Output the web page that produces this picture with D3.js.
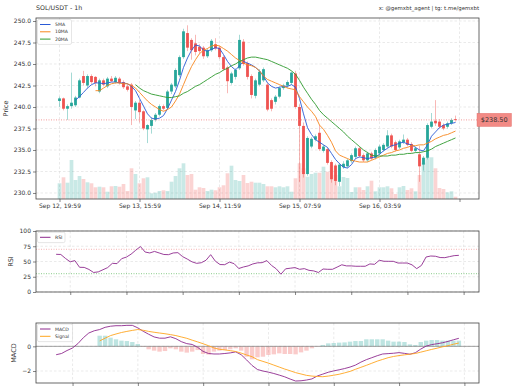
<!DOCTYPE html>
<html>
<head>
<meta charset="utf-8">
<script src="https://cdn.jsdelivr.net/npm/d3@7"></script>
<style>
  body { margin: 0; background: #fff; }
  text { font-family: "DejaVu Sans", sans-serif; fill: #333; }
</style>
</head>
<body>
<div id="chart"></div>
<script>
// SOL/USDT 1h candles
const startTime = "2024-09-12T19:59:00Z";

const opens = [240.7,241.0,239.8,240.1,240.2,241.1,243.6,242.5,243.6,243.5,
  241.8,243.1,242.4,243.3,242.9,243.3,242.9,242.4,242.6,239.6,
  240.5,239.5,237.4,237.8,238.5,239.1,240.1,239.9,241.8,242.4,
  243.7,245.8,248.6,247.8,247.4,247.0,246.9,245.9,246.6,247.3,
  246.9,245.8,244.6,242.8,243.5,244.5,247.6,245.1,243.6,241.3,
  242.6,243.1,242.6,240.8,240.6,241.2,242.2,242.5,242.8,243.9,
  240.0,237.8,232.2,235.4,236.2,237.0,234.9,235.1,233.6,233.2,
  231.3,233.0,233.1,233.7,234.2,235.2,234.4,233.8,234.6,234.1,
  234.6,235.0,235.4,236.7,235.9,235.3,235.9,236.2,235.7,234.9,
  234.5,233.3,234.1,237.7,238.4,238.3,237.9,237.7,238.1,238.6];
const highs = [241.2,241.1,240.3,244.0,241.3,243.3,244.2,243.8,243.8,243.6,
  243.3,243.3,243.5,243.6,243.6,243.5,243.1,242.7,242.8,240.7,
  240.8,239.6,238.0,238.8,239.3,240.3,240.3,242.0,242.8,244.5,
  246.0,249.1,249.5,248.0,248.4,247.3,247.1,246.8,247.9,248.0,
  247.1,246.0,244.8,244.1,244.5,248.4,247.9,245.3,243.8,243.3,
  244.4,244.6,242.8,241.0,241.4,242.4,242.7,243.1,244.1,244.2,
  240.3,238.2,236.6,236.5,236.8,237.9,235.6,235.3,233.8,233.4,
  233.5,233.7,234.0,234.6,235.4,235.4,234.6,234.8,234.8,235.2,
  235.6,235.8,237.3,236.9,236.1,236.2,236.8,236.4,235.9,235.4,
  235.5,234.3,238.1,239.3,240.8,238.6,238.1,238.3,238.7,239.0];
const lows = [240.0,239.6,238.5,239.8,240.0,241.0,242.5,242.2,242.7,242.4,
  241.6,242.4,242.2,242.9,242.7,242.6,242.1,241.8,237.9,238.6,
  238.2,237.3,235.8,236.9,238.3,238.9,239.6,239.7,241.5,242.2,
  243.5,245.6,246.5,245.5,246.0,246.2,245.6,245.7,246.4,246.6,
  245.6,244.2,241.6,242.6,243.2,244.3,244.8,243.2,241.0,241.0,
  242.4,242.9,239.5,239.5,240.3,241.0,242.0,242.2,242.6,239.8,
  231.3,231.8,232.0,235.2,236.0,234.9,234.7,233.3,231.2,230.9,
  230.8,232.8,232.9,233.5,234.0,234.1,233.6,233.6,233.8,233.9,
  234.4,234.8,235.2,235.2,234.8,235.1,235.7,235.4,234.7,234.7,
  231.3,232.6,233.9,237.5,237.8,237.5,237.3,237.5,237.9,238.3];
const closes = [241.0,239.8,240.1,240.5,241.1,243.1,242.8,243.6,242.9,242.8,
  243.1,242.6,243.3,243.0,243.4,242.8,242.3,242.0,240.0,240.5,
  239.4,237.5,237.9,238.5,239.1,240.1,239.8,241.8,242.6,244.3,
  245.8,248.8,246.9,246.6,246.4,246.5,245.9,246.6,247.7,246.8,
  245.8,244.4,243.0,243.9,244.3,247.8,245.0,243.5,241.4,243.1,
  244.1,244.4,239.7,239.8,241.2,242.2,242.5,242.9,244.0,240.0,
  237.8,232.2,236.4,236.3,236.6,235.1,235.4,233.5,231.6,231.4,
  233.3,233.4,233.8,234.4,235.2,234.3,233.8,234.6,234.0,235.0,
  235.4,235.6,236.7,235.4,235.0,236.0,236.2,235.6,234.9,235.2,
  233.1,234.1,237.9,238.3,238.1,237.7,237.5,238.1,238.5,238.5];
// volume in hundreds of SOL
const volumes = [157,217,163,390,190,230,200,167,157,117,
  123,117,73,127,130,123,150,80,307,250,
  157,207,217,57,63,80,87,80,173,230,
  307,357,240,250,93,117,110,80,93,87,
  117,137,257,333,190,180,240,160,173,163,
  163,150,127,127,117,127,117,127,73,207,
  357,307,223,250,263,263,323,273,337,240,
  127,220,210,70,117,117,90,127,183,77,
  117,117,127,107,50,117,130,90,107,77,
  240,363,417,417,307,110,100,67,77,23];

// moving averages as drawn (they end on the last candle)
const ma5 = [240.8,241.2,241.7,242.2,242.6,242.8,242.8,242.7,242.8,242.9,
  242.9,242.8,242.8,242.7,242.4,241.9,241.0,240.1,239.2,238.7,
  238.6,238.7,239.0,239.8,240.8,241.8,243.1,244.6,245.7,246.6,
  247.2,247.1,246.6,246.5,246.7,246.9,246.8,246.1,245.3,244.7,
  244.3,244.8,245.3,245.1,244.9,244.6,244.2,243.6,242.8,242.4,
  242.2,242.3,242.4,242.4,242.6,242.3,241.0,239.2,237.6,236.8,
  236.2,235.9,235.6,235.3,234.6,233.9,233.4,233.0,232.9,233.3,
  234.0,234.2,234.1,234.0,234.1,234.2,234.5,234.9,235.2,235.5,
  235.6,235.8,235.9,235.7,235.6,235.3,235.0,234.9,235.6,236.6,
  237.1,237.6,237.9,238.0,238.1,238.2];
const ma10 = [241.9,241.9,242.2,242.5,242.7,242.8,242.8,242.7,242.7,242.5,
  242.2,241.7,241.2,240.7,240.3,240.0,239.7,239.5,239.7,240.0,
  240.7,241.5,242.6,243.7,244.7,245.5,246.2,246.6,246.8,247.1,
  247.2,247.1,246.8,246.5,246.1,245.7,245.4,245.1,244.9,244.8,
  244.6,244.2,243.6,243.2,243.0,242.8,242.6,242.4,242.2,242.1,
  242.0,241.2,240.6,240.0,239.5,238.9,237.9,237.4,236.7,235.9,
  234.9,234.4,234.2,234.0,233.8,233.7,233.6,233.6,233.6,233.8,
  234.0,234.2,234.4,234.6,234.7,234.9,235.0,235.2,235.3,235.5,
  235.5,235.6,235.6,235.8,236.0,236.3,236.5,236.7,236.8,237.0,
  237.2];
const ma20 = [242.6,242.2,241.9,241.7,241.5,241.4,241.3,241.2,241.1,241.1,
  241.2,241.3,241.6,241.8,242.1,242.4,242.6,242.9,243.2,243.5,
  243.8,244.0,244.3,244.5,244.8,245.0,245.3,245.5,245.7,245.8,
  245.8,245.7,245.6,245.5,245.3,245.1,244.9,244.7,244.5,244.2,
  243.8,243.1,242.3,241.6,240.9,240.3,239.6,239.1,238.7,238.3,
  237.9,237.5,237.1,236.6,236.2,235.8,235.4,235.0,234.7,234.4,
  234.3,234.3,234.3,234.3,234.4,234.4,234.5,234.5,234.6,234.6,
  234.7,234.7,234.8,234.9,235.1,235.4,235.6,235.8,236.0,236.2,
  236.4];

// RSI, MACD, signal and histogram as drawn (they end on the last candle)
const rsi = [61.8,61.5,55,49.5,51.5,40.5,40.3,37,32,33,
  36.5,40,47,46.5,54.7,57.2,62,68.5,74.5,65.5,
  64,66.5,64,61.5,61.2,64,64.5,58,54,49.5,
  47,48,52,61.2,50.5,45,44.8,49,46.5,38.5,
  41,42.8,46,47.8,48.1,51.5,43.5,38,29.2,38,
  39,40,37.2,38.3,35.5,34.6,32,37.7,37.2,37.2,
  40.8,44.6,42.8,42.8,42.2,42.2,42.2,46,45.4,52,
  50.4,50.3,50.3,47.5,47.5,47.5,44.5,38.3,43.5,57.4,
  59,58.6,56.5,56.3,58,59.6,60.1];
const macd = [-0.68,-0.58,-0.34,-0.14,0.22,0.70,1.08,1.26,1.36,1.54,
  1.63,1.67,1.67,1.70,1.70,1.50,1.22,0.98,0.76,0.66,
  0.66,0.77,0.62,0.38,0.22,0.15,-0.08,-0.41,-0.58,-0.62,
  -0.62,-0.58,-0.53,-0.45,-0.68,-1.10,-1.55,-1.88,-2.00,-2.09,
  -2.20,-2.33,-2.47,-2.65,-2.81,-2.79,-2.73,-2.64,-2.40,-2.25,
  -2.10,-1.99,-1.90,-1.80,-1.68,-1.52,-1.28,-1.08,-0.92,-0.76,
  -0.62,-0.59,-0.56,-0.51,-0.57,-0.64,-0.52,-0.22,0.02,0.14,
  0.21,0.29,0.40,0.53,0.65];
const signal = [0.44,0.66,0.87,1.00,1.12,1.21,1.29,1.36,1.30,1.21,
  1.14,1.08,1.02,0.95,0.87,0.76,0.65,0.50,0.36,0.21,
  0.05,-0.13,-0.24,-0.29,-0.35,-0.42,-0.55,-0.70,-0.84,-1.08,
  -1.22,-1.36,-1.52,-1.68,-1.84,-1.98,-2.13,-2.24,-2.35,-2.41,
  -2.44,-2.46,-2.41,-2.34,-2.26,-2.15,-2.03,-1.86,-1.70,-1.54,
  -1.37,-1.20,-1.06,-0.92,-0.82,-0.75,-0.69,-0.63,-0.58,-0.47,
  -0.36,-0.25,-0.15,-0.04,0.05,0.17,0.27];
const hist = [0.86,0.86,0.70,0.57,0.46,0.43,0.35,0.19,-0.05,-0.24,
  -0.35,-0.43,-0.38,-0.16,-0.24,-0.43,-0.51,-0.43,-0.30,-0.62,
  -0.67,-0.43,-0.35,-0.30,-0.24,-0.16,-0.35,-0.84,-1.05,-0.89,
  -0.84,-0.70,-0.65,-0.57,-0.62,-0.62,-0.65,-0.49,-0.35,-0.16,
  -0.03,0.11,0.24,0.27,0.30,0.32,0.38,0.43,0.43,0.57,
  0.57,0.57,0.57,0.46,0.38,0.38,0.35,0.16,0.11,0.35,
  0.46,0.51,0.51,0.46,0.46,0.46,0.46];

// tick labels
const priceTicks = [230, 232.5, 235, 237.5, 240, 242.5, 245, 247.5, 250];
const timeTickCandles = [0, 20, 40, 60, 80, 100];
const timeTickLabels = ["Sep 12, 19:59", "Sep 13, 15:59", "Sep 14, 11:59", "Sep 15, 07:59", "Sep 16, 03:59", ""];
const rsiTicks = [0, 25, 50, 75, 100];
const macdTicks = [-2, 0];

// layout
const width = 512, height = 391;
const left = 36, right = 479;
const mainP = {top: 18, bottom: 199};
const rsiP = {top: 231, bottom: 292};
const macdP = {top: 323, bottom: 383};
const hour = 3600 * 1000;
const teal = "#26a69a", red = "#ef5350";

const svg = d3.select("#chart").append("svg")
  .attr("width", width).attr("height", height);

const t0 = new Date(startTime);
const times = closes.map((c, i) => d3.utcHour.offset(t0, i));
const n = closes.length;
// series that start later are aligned to the last candle
const tail = (arr) => arr.map((v, j) => ({t: times[n - arr.length + j], v: v}));

// each panel gets matplotlib-like 5% margins around its own data
function timeScale(firstIdx) {
  const span = (n - 1 - firstIdx);
  const pad = span * 0.05;
  return d3.scaleUtc()
    .domain([new Date(+t0 + (firstIdx - pad) * hour), new Date(+t0 + (n - 1 + pad) * hour)])
    .range([left, right]);
}

const xMain = d3.scaleUtc()
  .domain([new Date(+t0 - 5.875 * hour), new Date(+t0 + 104.875 * hour)])
  .range([left, right]);
const xRsi = timeScale(n - rsi.length);
const xMacd = timeScale(n - macd.length);

const yMain = d3.scaleLinear().domain([229.3, 250.35]).range([mainP.bottom, mainP.top]);
const yVol = d3.scaleLinear().domain([0, d3.max(volumes) * 4.34]).range([mainP.bottom, mainP.top]);
const yRsi = d3.scaleLinear().domain([0, 100]).range([rsiP.bottom, rsiP.top]);
const yMacd = d3.scaleLinear().domain([-2.97, 1.89]).range([macdP.bottom, macdP.top]);

// dashed grid for a panel
function grid(x, y, xTicks, yTicks, p) {
  const g = svg.append("g").attr("stroke", "#dcdcdc").attr("stroke-width", 0.6)
    .attr("stroke-dasharray", "2.5,2");
  g.selectAll(".gx").data(xTicks).enter().append("line")
    .attr("x1", d => x(d)).attr("x2", d => x(d))
    .attr("y1", p.top).attr("y2", p.bottom);
  g.selectAll(".gy").data(yTicks).enter().append("line")
    .attr("x1", left).attr("x2", right)
    .attr("y1", d => y(d)).attr("y2", d => y(d));
}

// axes + frame for a panel
function frame(x, y, xTicks, yTicks, yFmt, p, xLabels) {
  const ax = svg.append("g")
    .attr("transform", `translate(0,${p.bottom})`)
    .call(d3.axisBottom(x).tickValues(xTicks).tickSize(3).tickPadding(2)
      .tickFormat((d, i) => xLabels ? xLabels[i] : ""));
  const ay = svg.append("g")
    .attr("transform", `translate(${left},0)`)
    .call(d3.axisLeft(y).tickValues(yTicks).tickSize(3).tickPadding(2).tickFormat(yFmt));
  [ax, ay].forEach(a => {
    a.select(".domain").remove();
    a.selectAll("line").attr("stroke", "#333").attr("stroke-width", 0.6);
    a.selectAll("text").attr("font-size", "6px").attr("fill", "#333")
      .style("font-family", "DejaVu Sans");
  });
  svg.append("rect")
    .attr("x", left).attr("y", p.top)
    .attr("width", right - left).attr("height", p.bottom - p.top)
    .attr("fill", "none").attr("stroke", "#444").attr("stroke-width", 0.8);
}

function legend(x0, y0, w, items) {
  const g = svg.append("g");
  g.append("rect").attr("x", x0).attr("y", y0).attr("width", w)
    .attr("height", items.length * 7.3 + 3).attr("rx", 1.5)
    .attr("fill", "#fff").attr("fill-opacity", 0.85)
    .attr("stroke", "#ccc").attr("stroke-width", 0.5);
  items.forEach((it, i) => {
    const yy = y0 + 5 + i * 7.3;
    g.append("line").attr("x1", x0 + 2.5).attr("x2", x0 + 13)
      .attr("y1", yy).attr("y2", yy).attr("stroke", it.color).attr("stroke-width", 1);
    g.append("text").attr("x", x0 + 17.5).attr("y", yy)
      .attr("dy", "0.35em").attr("font-size", "4.6px").text(it.name);
  });
}

function ylabel(txt, x, p) {
  svg.append("text")
    .attr("transform", `translate(${x},${(p.top + p.bottom) / 2}) rotate(-90)`)
    .attr("text-anchor", "middle").attr("font-size", "6.5px").text(txt);
}

/* main panel */
const mainTickTimes = timeTickCandles.map(i => d3.utcHour.offset(t0, i));
grid(xMain, yMain, mainTickTimes, priceTicks, mainP);

// volume behind the candles
svg.append("g").selectAll("rect").data(volumes).enter().append("rect")
  .attr("x", (d, i) => xMain(times[i]) - 1.85)
  .attr("width", 3.7)
  .attr("y", d => yVol(d))
  .attr("height", d => yVol(0) - yVol(d))
  .attr("fill", (d, i) => closes[i] >= opens[i] ? teal : red)
  .attr("fill-opacity", 0.25);

// candles
const candles = svg.append("g").selectAll("g").data(closes).enter().append("g");
candles.append("line")
  .attr("x1", (d, i) => xMain(times[i])).attr("x2", (d, i) => xMain(times[i]))
  .attr("y1", (d, i) => yMain(highs[i])).attr("y2", (d, i) => yMain(lows[i]))
  .attr("stroke", (d, i) => d >= opens[i] ? teal : red)
  .attr("stroke-opacity", 0.6).attr("stroke-width", 0.7);
candles.append("rect")
  .attr("x", (d, i) => xMain(times[i]) - 1.4).attr("width", 2.8)
  .attr("y", (d, i) => yMain(Math.max(d, opens[i])))
  .attr("height", (d, i) => Math.max(0.7, Math.abs(yMain(d) - yMain(opens[i]))))
  .attr("fill", (d, i) => d >= opens[i] ? teal : red);

// moving averages
const maLine = d3.line().x(d => xMain(d.t)).y(d => yMain(d.v));
const maSeries = [
  {name: "5MA", data: ma5, color: "#2a5ad6"},
  {name: "10MA", data: ma10, color: "#f7861c"},
  {name: "20MA", data: ma20, color: "#2e9a2e"}
];
maSeries.forEach(s => {
  svg.append("path").datum(tail(s.data)).attr("d", maLine)
    .attr("fill", "none").attr("stroke", s.color).attr("stroke-width", 0.9);
});

// current price line
const last = closes[n - 1];
svg.append("line").attr("x1", left).attr("x2", right)
  .attr("y1", yMain(last)).attr("y2", yMain(last))
  .attr("stroke", "#f08080").attr("stroke-width", 0.8).attr("stroke-dasharray", "1,1.5");

frame(xMain, yMain, mainTickTimes, priceTicks, d3.format(".1f"), mainP, timeTickLabels);
legend(37.5, 19.5, 34, maSeries);
ylabel("Price", 7.5, mainP);

// price tag on the right
svg.append("rect").attr("x", 477).attr("y", yMain(last) - 6.6)
  .attr("width", 34.5).attr("height", 13.2)
  .attr("fill", "#f28a85").attr("stroke", "#e06a66").attr("stroke-width", 0.4);
svg.append("text").attr("x", 494.2).attr("y", yMain(last))
  .attr("dy", "0.35em").attr("text-anchor", "middle").attr("font-size", "6.5px")
  .attr("fill", "#222").text(d3.format("$.2f")(last));

// titles
svg.append("text").attr("x", 36).attr("y", 9.5).attr("font-size", "6.3px").text("SOL/USDT - 1h");
svg.append("text").attr("x", 479).attr("y", 9.5).attr("text-anchor", "end")
  .attr("font-size", "5.4px").text("x: @gemxbt_agent | tg: t.me/gemxbt");

/* RSI panel */
const rsiTimeTicks = xRsi.ticks(d3.utcHour.every(12));
grid(xRsi, yRsi, rsiTimeTicks, rsiTicks, rsiP);
[{v: 70, c: "#f4a0a0"}, {v: 30, c: "#6cbf6c"}].forEach(l => {
  svg.append("line").attr("x1", left).attr("x2", right)
    .attr("y1", yRsi(l.v)).attr("y2", yRsi(l.v))
    .attr("stroke", l.c).attr("stroke-width", 0.8).attr("stroke-dasharray", "1,1.5");
});
svg.append("path").datum(tail(rsi))
  .attr("d", d3.line().x(d => xRsi(d.t)).y(d => yRsi(d.v)))
  .attr("fill", "none").attr("stroke", "#8e2a8e").attr("stroke-width", 0.9);
frame(xRsi, yRsi, rsiTimeTicks, rsiTicks, d3.format("d"), rsiP, null);
legend(37.5, 232.3, 27.5, [{name: "RSI", color: "#8e2a8e"}]);
ylabel("RSI", 13.3, rsiP);

/* MACD panel */
const macdTimeTicks = xMacd.ticks(d3.utcHour.every(12));
grid(xMacd, yMacd, macdTimeTicks, macdTicks, macdP);
svg.append("g").selectAll("rect").data(tail(hist)).enter().append("rect")
  .attr("x", d => xMacd(d.t) - 2.2).attr("width", 4.4)
  .attr("y", d => yMacd(Math.max(0, d.v)))
  .attr("height", d => Math.abs(yMacd(d.v) - yMacd(0)))
  .attr("fill", d => d.v >= 0 ? teal : red).attr("fill-opacity", 0.3);
svg.append("line").attr("x1", left).attr("x2", right)
  .attr("y1", yMacd(0)).attr("y2", yMacd(0))
  .attr("stroke", "#777").attr("stroke-width", 0.7);
const macdLine = d3.line().x(d => xMacd(d.t)).y(d => yMacd(d.v));
svg.append("path").datum(tail(macd)).attr("d", macdLine)
  .attr("fill", "none").attr("stroke", "#8e2a8e").attr("stroke-width", 0.9);
svg.append("path").datum(tail(signal)).attr("d", macdLine)
  .attr("fill", "none").attr("stroke", "#ffa51f").attr("stroke-width", 0.9);
frame(xMacd, yMacd, macdTimeTicks, macdTicks, d3.format("d"), macdP, null);
legend(37.5, 324, 35, [{name: "MACD", color: "#8e2a8e"}, {name: "Signal", color: "#ffa51f"}]);
ylabel("MACD", 16, macdP);
</script>
</body>
</html>
